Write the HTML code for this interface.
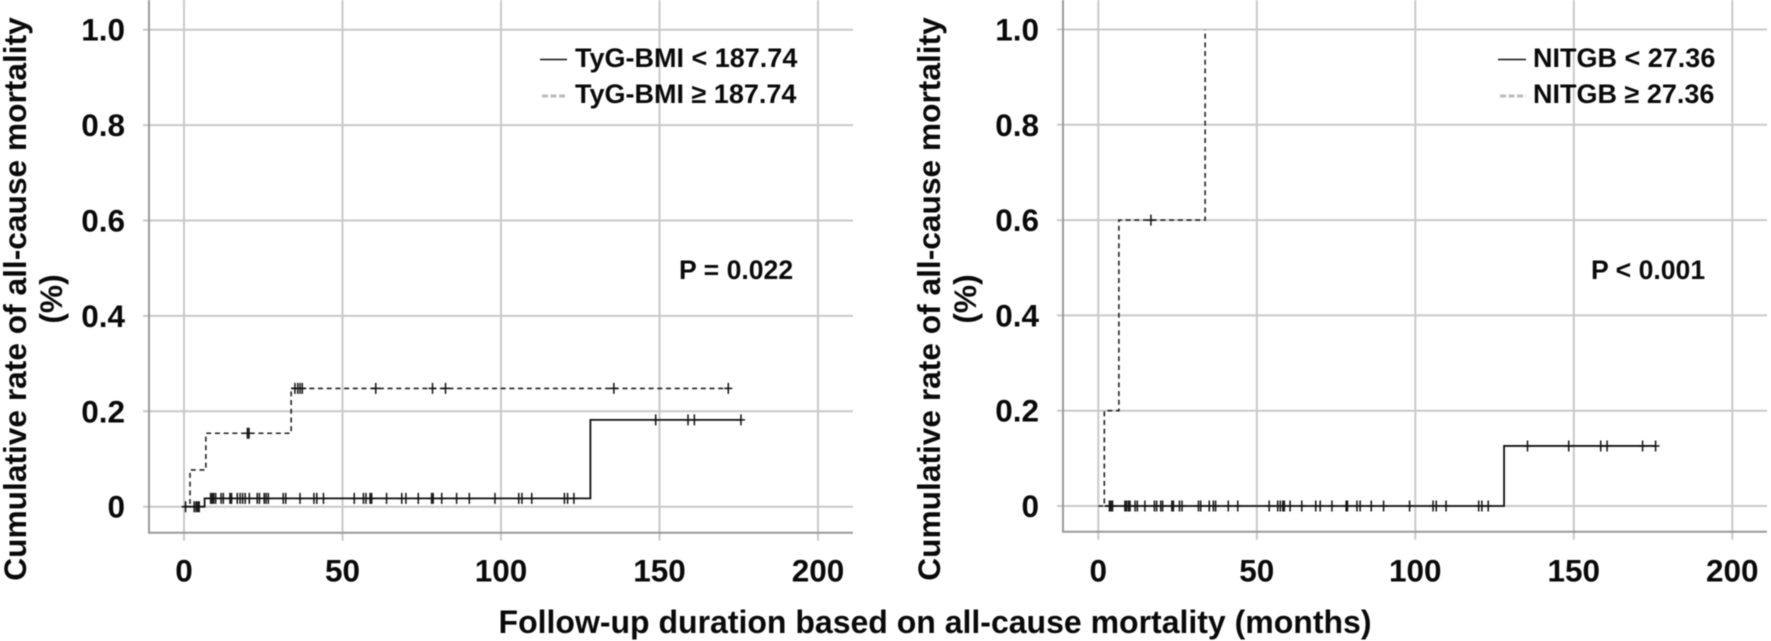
<!DOCTYPE html>
<html lang="en">
<head>
<meta charset="utf-8">
<title>Cumulative all-cause mortality curves</title>
<style>
html,body{margin:0;padding:0;background:#fff;width:1771px;height:641px;overflow:hidden}
svg{display:block;filter:blur(0.4px)}
text{font-family:"Liberation Sans",Arial,sans-serif;font-weight:bold;fill:#0a0a0a}
</style>
</head>
<body>
<svg id="chart" xmlns="http://www.w3.org/2000/svg" width="1771" height="641" viewBox="0 0 1771 641">
  <rect width="1771" height="641" fill="#fff"/>
  <g id="panel-left"></g>
  <g id="panel-right"></g>

  <g>
    <text transform="translate(26,299) rotate(-90)" text-anchor="middle" font-size="31.7">Cumulative rate of all-cause mortality</text>
    <text transform="translate(62,299) rotate(-90)" text-anchor="middle" font-size="31.7">(%)</text>
  </g>
  <g>
    <text transform="translate(940,299) rotate(-90)" text-anchor="middle" font-size="31.7">Cumulative rate of all-cause mortality</text>
    <text transform="translate(976,299) rotate(-90)" text-anchor="middle" font-size="31.7">(%)</text>
  </g>
  <text x="935" y="633" text-anchor="middle" font-size="32">Follow-up duration based on all-cause mortality (months)</text>

  <g>
    <line x1="540" y1="59.5" x2="567" y2="59.5" stroke="#111" stroke-width="1.6"/>
    <text x="575" y="67" font-size="27">TyG-BMI &lt; 187.74</text>
    <line x1="542" y1="96" x2="567" y2="96" stroke="#bbb" stroke-width="3" stroke-dasharray="6 2.5"/>
    <text x="575" y="103" font-size="27">TyG-BMI ≥ 187.74</text>
  </g>
  <g>
    <line x1="1498" y1="59.5" x2="1526" y2="59.5" stroke="#111" stroke-width="1.6"/>
    <text x="1533" y="67" font-size="27">NITGB &lt; 27.36</text>
    <line x1="1500" y1="96" x2="1526" y2="96" stroke="#bbb" stroke-width="3" stroke-dasharray="6 2.5"/>
    <text x="1533" y="103" font-size="27">NITGB ≥ 27.36</text>
  </g>
  <text x="679" y="279" font-size="26.6">P = 0.022</text>
  <text x="1591" y="279" font-size="26.6">P &lt; 0.001</text>
</svg>
<script>
// Axis labels
const xTickValues = [0, 50, 100, 150, 200];
const yTickValues = [0, 0.2, 0.4, 0.6, 0.8, 1.0];
const yTickLabels = ['0', '0.2', '0.4', '0.6', '0.8', '1.0'];

// TyG-BMI panel series
const tygLowTimes = [0, 6.5, 128.2, 176];
const tygLowRates = [0, 0.0175, 0.182, 0.182];
const tygLowCensored = [0.5, 3.2, 3.8, 4.3, 4.8, 8.4, 8.9, 9.4, 10, 11.7, 12.4, 14.5, 15, 16.8, 17.7, 18.5, 19.3, 20.6, 23.1, 23.8, 25.3, 25.9, 26.6, 31.3, 32.1, 36.6, 41, 41.9, 44, 53.7, 56.6, 57.4, 58.7, 59.2, 63.9, 68.7, 70, 73.9, 78.1, 78.6, 81.3, 86, 90, 98.1, 105.6, 106.6, 109.7, 120, 121, 123, 148.8, 159, 161, 175.7];
const tygHighTimes = [0, 1.9, 6.9, 33.8, 172];
const tygHighRates = [0, 0.077, 0.154, 0.248, 0.248];
const tygHighCensored = [20, 20.5, 35, 35.9, 36.6, 37.3, 60.5, 78.4, 82.5, 135.6, 171.7];

// NITGB panel series
const nitgbLowTimes = [2, 128, 176];
const nitgbLowRates = [0, 0.126, 0.126];
const nitgbLowCensored = [3.5, 4, 4.5, 8.4, 8.9, 9.5, 10, 11.6, 12.3, 14.7, 17.7, 18.4, 19.7, 20.3, 23.2, 23.7, 25.6, 26.4, 31.6, 32.3, 35, 36.3, 37, 41, 44, 53.9, 56.6, 57.4, 58.2, 58.7, 60.5, 64.2, 68.6, 70, 73.7, 78.2, 78.6, 81.6, 82.6, 86.1, 90, 98.2, 105.6, 106.6, 109.7, 120, 121, 123, 135.4, 148.4, 158.5, 160.5, 171.7, 175.8];
const nitgbHighTimes = [0, 1.9, 6.5, 33.7];
const nitgbHighRates = [0, 0.2, 0.6, 1.0];
const nitgbHighCensored = [16.6];

const NS = 'http://www.w3.org/2000/svg';

function shape(parent, tag, attrs) {
  const el = document.createElementNS(NS, tag);
  Object.keys(attrs).forEach(function (k) { el.setAttribute(k, attrs[k]); });
  parent.appendChild(el);
  return el;
}

function rateAt(times, rates, t) {
  let r = rates[0];
  for (let i = 0; i < times.length; i++) {
    if (t >= times[i]) r = rates[i];
  }
  return r;
}

function drawPanel(group, frame, prefix, lowTimes, lowRates, lowCensored, highTimes, highRates, highCensored) {
  const sx = function (v) { return frame.x0 + v * frame.pxPerMonth; };
  const sy = function (v) { return frame.y0 - v * frame.pxPerUnit; };

  yTickValues.forEach(function (v, i) {
    const grid = shape(group, 'line', { x1: frame.gridLeft, x2: frame.gridRight, y1: sy(v), y2: sy(v), stroke: '#c9c9c9', 'stroke-width': 2 });
    
    
    const label = shape(group, 'text', { x: frame.axisLeft - 24, y: sy(v) + 11, 'text-anchor': 'end', 'font-size': 31.5 });
    
    
    label.textContent = yTickLabels[i];
  });

  xTickValues.forEach(function (v) {
    const grid = shape(group, 'line', { x1: sx(v), x2: sx(v), y1: 0, y2: frame.axisBottom + 8, stroke: '#c9c9c9', 'stroke-width': 2 });
    
    
    const label = shape(group, 'text', { x: sx(v), y: 581.5, 'text-anchor': 'middle', 'font-size': 31.5 });
    
    
    label.textContent = String(v);
  });

  const yAxis = shape(group, 'line', { x1: frame.axisLeft, x2: frame.axisLeft, y1: 0, y2: frame.axisBottom + 1, stroke: '#9a9a9a', 'stroke-width': 2 });
  
  
  const xAxis = shape(group, 'line', { x1: frame.axisLeft, x2: frame.gridRight, y1: frame.axisBottom, y2: frame.axisBottom, stroke: '#9a9a9a', 'stroke-width': 2 });
  
  

  function stepPath(times, rates) {
    let d = 'M' + sx(times[0]) + ' ' + sy(rates[0]);
    for (let i = 1; i < times.length; i++) {
      d += ' H' + sx(times[i]) + ' V' + sy(rates[i]);
    }
    return d;
  }

  function censorPath(censored, times, rates) {
    let d = '';
    censored.forEach(function (t) {
      const x = sx(t), y = sy(rateAt(times, rates, t));
      d += 'M' + x + ' ' + (y - 5.5) + ' V' + (y + 5.5) + ' M' + (x - 4) + ' ' + y + ' H' + (x + 4) + ' ';
    });
    return d;
  }

  const high = shape(group, 'path', { d: stepPath(highTimes, highRates), fill: 'none', stroke: '#222', 'stroke-width': 1.6, 'stroke-dasharray': '5 3.7' });
  
  
  const highMarks = shape(group, 'path', { d: censorPath(highCensored, highTimes, highRates), fill: 'none', stroke: '#111', 'stroke-width': 1.5 });
  
  
  const low = shape(group, 'path', { d: stepPath(lowTimes, lowRates), fill: 'none', stroke: '#111', 'stroke-width': 1.8 });
  
  
  const lowMarks = shape(group, 'path', { d: censorPath(lowCensored, lowTimes, lowRates), fill: 'none', stroke: '#111', 'stroke-width': 1.5 });
  
  
}

drawPanel(document.getElementById('panel-left'),
  { x0: 184, y0: 506.7, pxPerMonth: 3.17, pxPerUnit: 477, axisLeft: 149, axisBottom: 532.7, gridLeft: 143, gridRight: 853 },
  'tyg-bmi', tygLowTimes, tygLowRates, tygLowCensored, tygHighTimes, tygHighRates, tygHighCensored);

drawPanel(document.getElementById('panel-right'),
  { x0: 1098.3, y0: 506, pxPerMonth: 3.17, pxPerUnit: 476.5, axisLeft: 1063, axisBottom: 531.7, gridLeft: 1057, gridRight: 1767 },
  'nitgb', nitgbLowTimes, nitgbLowRates, nitgbLowCensored, nitgbHighTimes, nitgbHighRates, nitgbHighCensored);
</script>
</body>
</html>
